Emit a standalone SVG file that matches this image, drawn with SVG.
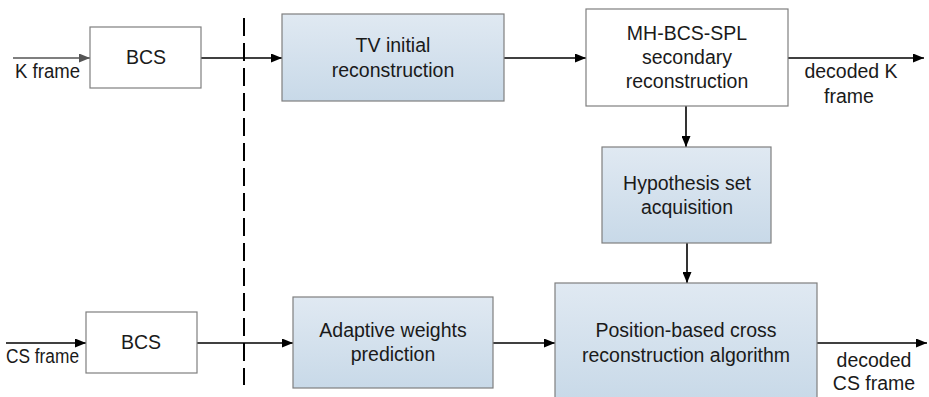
<svg xmlns="http://www.w3.org/2000/svg" width="929" height="397" viewBox="0 0 929 397">
<style>
text{font-family:"Liberation Sans",Arial,sans-serif;font-size:19.5px;fill:#1a1a1a;text-anchor:middle}
.l{text-anchor:start}
.w{fill:#fff;stroke:#7f7f7f;stroke-width:1.2}
.b{fill:url(#g);stroke:#7f7f7f;stroke-width:1.2}
.c{stroke:#000;stroke-width:1.6;fill:none;marker-end:url(#a)}
.cg{stroke:#555;stroke-width:1.6;fill:none;marker-end:url(#ag)}
</style>
<defs>
<linearGradient id="g" x1="0" y1="0" x2="0" y2="1"><stop offset="0" stop-color="#e0e9f2"/><stop offset="1" stop-color="#c8d9e8"/></linearGradient>
<marker id="a" markerWidth="11" markerHeight="9" refX="11" refY="4.5" orient="auto" markerUnits="userSpaceOnUse"><path d="M0,0L11,4.5L0,9z" fill="#000"/></marker>
<marker id="ag" markerWidth="11" markerHeight="9" refX="11" refY="4.5" orient="auto" markerUnits="userSpaceOnUse"><path d="M0,0L11,4.5L0,9z" fill="#555"/></marker>
</defs>
<rect width="929" height="397" fill="#fff"/>
<g id="connectors">
<line class="cg" x1="13" y1="58" x2="90" y2="58"/>
<line class="c" x1="201" y1="58" x2="282" y2="58"/>
<line class="c" x1="504" y1="58" x2="586" y2="58"/>
<line class="c" x1="788" y1="58" x2="924" y2="58"/>
<line class="c" x1="686" y1="106" x2="686" y2="147"/>
<line class="c" x1="687" y1="243" x2="687" y2="283"/>
<line class="c" x1="6" y1="343" x2="86" y2="343"/>
<line class="c" x1="197" y1="343" x2="293" y2="343"/>
<line class="c" x1="493" y1="343" x2="555" y2="343"/>
<line class="c" x1="817" y1="343" x2="927" y2="343"/>
<line x1="244" y1="18" x2="244" y2="385" stroke="#000" stroke-width="2" stroke-dasharray="18 7"/>
</g>
<g id="bcs1"><rect class="w" x="90" y="27" width="111" height="61"/><text x="146" y="64">BCS</text></g>
<g id="tv"><rect class="b" x="282" y="14" width="222" height="87"/><text x="393" y="52">TV initial</text><text x="393" y="77">reconstruction</text></g>
<g id="mh"><rect class="w" x="586" y="9" width="202" height="97"/><text x="687" y="40">MH-BCS-SPL</text><text x="687" y="64">secondary</text><text x="687" y="88">reconstruction</text></g>
<g id="hyp"><rect class="b" x="602" y="147" width="169" height="96"/><text x="687" y="190">Hypothesis set</text><text x="687" y="214">acquisition</text></g>
<g id="bcs2"><rect class="w" x="86" y="312" width="111" height="61"/><text x="141" y="349">BCS</text></g>
<g id="adapt"><rect class="b" x="293" y="297" width="200" height="91"/><text x="393" y="337">Adaptive weights</text><text x="393" y="361">prediction</text></g>
<g id="pos"><rect class="b" x="555" y="283" width="262" height="118"/><text x="686" y="337">Position-based cross</text><text x="686" y="362">reconstruction algorithm</text></g>
<g id="labels">
<text class="l" x="15" y="78" textLength="65" lengthAdjust="spacingAndGlyphs">K frame</text>
<text x="851" y="78">decoded K</text>
<text x="849" y="103">frame</text>
<text class="l" x="6" y="363" textLength="73" lengthAdjust="spacingAndGlyphs">CS frame</text>
<text x="874" y="367">decoded</text>
<text x="874" y="390">CS frame</text>
</g>
</svg>
